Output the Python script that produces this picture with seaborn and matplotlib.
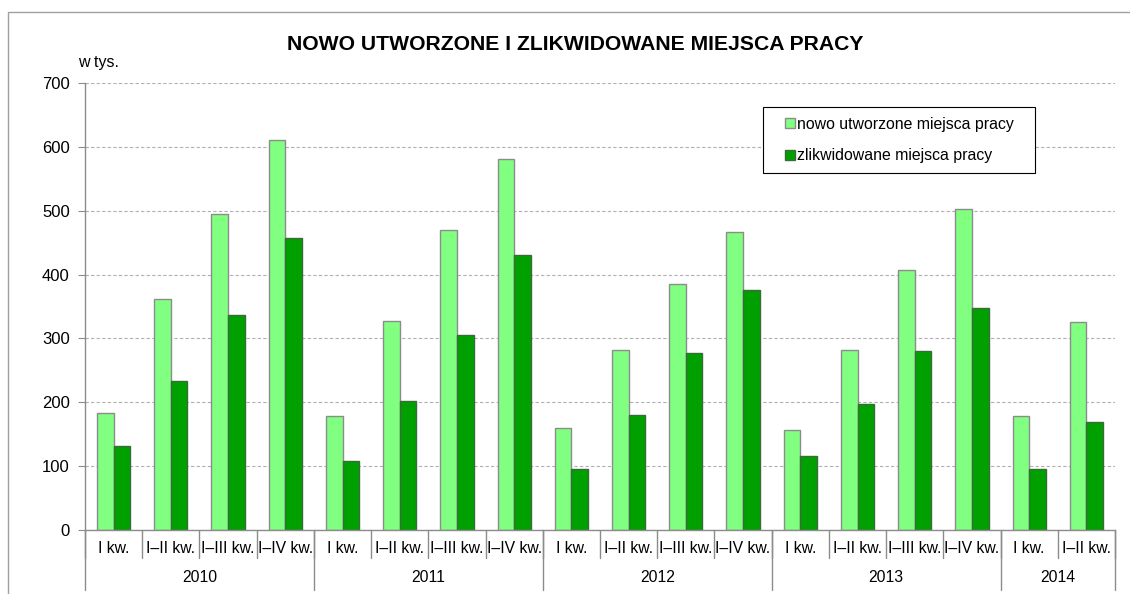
import pandas as pd
import matplotlib.pyplot as plt
import matplotlib.patches as mpatches
from matplotlib.transforms import blended_transform_factory
import seaborn as sns

# data (w tys.)
years = ['2010', '2011', '2012', '2013', '2014']
quarters_per_year = [4, 4, 4, 4, 2]
quarter_labels = ['I kw.', 'I\u2013II kw.', 'I\u2013III kw.', 'I\u2013IV kw.']
new_jobs = [183, 362, 495, 611,
            178, 328, 470, 581,
            160, 282, 386, 466,
            156, 282, 407, 503,
            179, 325]
closed_jobs = [131, 233, 337, 457,
               108, 202, 306, 430,
               96, 180, 277, 376,
               116, 197, 281, 347,
               95, 169]
series_names = ['nowo utworzone miejsca pracy', 'zlikwidowane miejsca pracy']
colors = ['#80FF80', '#00A000']
edges = ['#8c8c8c', '#3a6b3a']

periods = []
qlabels = []
for y, n in zip(years, quarters_per_year):
    for q in quarter_labels[:n]:
        periods.append(f'{y} {q}')
        qlabels.append(q)

df = pd.DataFrame({
    'okres': periods * 2,
    'seria': [series_names[0]] * len(periods) + [series_names[1]] * len(periods),
    'wartosc': new_jobs + closed_jobs,
})

sns.set_style('white')
plt.rcParams['font.family'] = ['Liberation Sans', 'DejaVu Sans']
plt.rcParams['text.color'] = 'black'
plt.rcParams['ytick.labelcolor'] = 'black'

fig = plt.figure(figsize=(11.3, 5.94), dpi=100)
ax = fig.add_axes([85 / 1130, 64 / 594, 1030 / 1130, 447 / 594])

sns.barplot(data=df, x='okres', y='wartosc', hue='seria', order=periods,
            hue_order=series_names, palette=colors, saturation=1, width=0.58,
            gap=0, linewidth=1, ax=ax, legend=False)
for cont, ec in zip(ax.containers, edges):
    for p in cont:
        p.set_edgecolor(ec)

ax.set_xlim(-0.5, len(periods) - 0.5)
ax.set_ylim(0, 700)
ax.set_yticks(range(0, 701, 100))
ax.yaxis.grid(True, linestyle=(0, (3, 2)), color='#b0b0b0', linewidth=0.8)
ax.set_axisbelow(True)
ax.set_xlabel('')
ax.set_ylabel('')
ax.set_xticks([])
for s in ['top', 'right']:
    ax.spines[s].set_visible(False)
for s in ['left', 'bottom']:
    ax.spines[s].set_color('#8c8c8c')
    ax.spines[s].set_linewidth(1)
ax.tick_params(axis='y', length=5, color='#8c8c8c', labelsize=12, pad=6, left=True,
               labelcolor='black')

# two-level category axis
tr = blended_transform_factory(ax.transData, ax.transAxes)
for i, q in enumerate(qlabels):
    ax.text(i, -0.041, q, transform=tr, ha='center', va='center', fontsize=11.3)
for i in range(len(periods) + 1):
    ax.plot([i - 0.5, i - 0.5], [0, -0.063], transform=tr, color='#8c8c8c',
            linewidth=1, clip_on=False)
start = 0
for y, n in zip(years, quarters_per_year):
    ax.text(start + n / 2 - 0.5, -0.107, y, transform=tr, ha='center', va='center',
            fontsize=11.3)
    start += n
bounds = [0]
for n in quarters_per_year:
    bounds.append(bounds[-1] + n)
for b in bounds:
    ax.plot([b - 0.5, b - 0.5], [0, -0.135], transform=tr, color='#8c8c8c',
            linewidth=1, clip_on=False)

# legend: white box with black border, entries without own frame
fig.patches.append(mpatches.Rectangle((763 / 1130, 1 - 173 / 594), 272 / 1130, 66 / 594,
                                      transform=fig.transFigure, facecolor='white',
                                      edgecolor='black', linewidth=0.8, zorder=4))
handles = [mpatches.Patch(facecolor=c, edgecolor=e, label=n)
           for c, e, n in zip(colors, edges, series_names)]
leg = fig.legend(handles=handles, loc='center left',
                 bbox_to_anchor=(785 / 1130, 1 - 140 / 594),
                 fontsize=11.4, frameon=False, handlelength=0.6,
                 handleheight=0.6, handletextpad=0.15, labelspacing=1.05,
                 borderpad=0, borderaxespad=0)
leg.set_zorder(5)

fig.text(575 / 1130, 1 - 44 / 594, 'NOWO UTWORZONE I ZLIKWIDOWANE MIEJSCA PRACY',
         ha='center', va='center', fontsize=15.2, fontweight='bold')
fig.text(78 / 1130, 1 - 62 / 594, 'w tys.', ha='left', va='center', fontsize=11.5)

# outer chart frame
fig.patches.append(mpatches.Rectangle((8 / 1130, -0.01), 1.1, 1 - 12 / 594 + 0.01,
                                      transform=fig.transFigure, fill=False,
                                      edgecolor='#a0a0a0', linewidth=1))

fig.savefig('out.png', dpi=100)
